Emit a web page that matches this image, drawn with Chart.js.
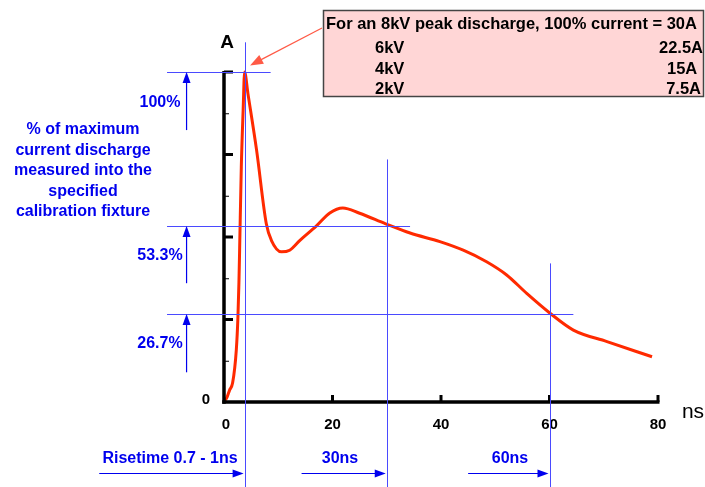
<!DOCTYPE html>
<html>
<head>
<meta charset="utf-8">
<script src="https://cdn.jsdelivr.net/npm/chart.js@4.4.1/dist/chart.umd.min.js"></script>
<style>
  html, body { margin: 0; padding: 0; background: #ffffff; }
  #wrap { width: 705px; height: 487px; position: relative; }
</style>
</head>
<body>
<div id="wrap"><canvas id="c" width="705" height="487"></canvas></div>
<script>
// ---- Data (time in ns, current in % of maximum) ----
const timeNs = [0, 0.57, 1.03, 1.59, 2.27, 2.57, 2.75, 2.88, 3.19, 3.53, 3.8, 4.4, 6.0, 7.8, 8.73, 10.6, 12.1, 14, 17, 19.5, 21.9, 25, 29.8, 34.3, 39.8, 44.1, 48.4, 52.1, 55.8, 60.1, 64.4, 70.6, 78.9];
const currentPct = [0, 1.5, 3.6, 5.8, 15.8, 25.8, 36.1, 46.1, 71.2, 88.5, 100, 93.6, 76.4, 54, 49, 45.5, 46, 49, 53.3, 57.3, 58.8, 57.2, 54, 51.2, 48.6, 46, 42.5, 38.5, 32.9, 26.9, 21.8, 18.3, 13.7];

const xTickValues = [0, 20, 40, 60, 80];
const xTickLabels = ['0', '20', '40', '60', '80'];
const yMajorTicks = [0, 25, 50, 75, 100];
const yMinorTicks = [12.5, 37.5, 62.5, 87.5];

const levelPct = [100, 53.3, 26.7];
const levelLabels = ['100%', '53.3%', '26.7%'];
const levelLineEndNs = [8.6, 34.3, 64.4];
const timeMarksNs = [3.8, 30, 60];
const timeMarkTopPct = [109, 73.5, 42];
const timeLabels = ['Risetime 0.7 - 1ns', '30ns', '60ns'];
const timeArrowTailNs = [-23, 14.3, 45];

const noteLines = ['% of maximum', 'current discharge', 'measured into the', 'specified', 'calibration fixture'];
const boxRowsLeft = ['6kV', '4kV', '2kV'];
const boxRowsRight = ['22.5A', '15A', '7.5A'];
const boxTitle = 'For an 8kV peak discharge, 100% current = 30A';

const FONT = '"Liberation Sans", Arial, Helvetica, sans-serif';
const BLUE = '#0000ee';
const LINEBLUE = '#4a4aff';

function arrow(ctx, x1, y1, x2, y2, color, headLen, headW) {
  const ang = Math.atan2(y2 - y1, x2 - x1);
  ctx.save();
  ctx.strokeStyle = color; ctx.fillStyle = color;
  ctx.lineWidth = 1.2;
  ctx.beginPath();
  ctx.moveTo(x1, y1);
  ctx.lineTo(x2 - Math.cos(ang) * headLen * 0.8, y2 - Math.sin(ang) * headLen * 0.8);
  ctx.stroke();
  ctx.translate(x2, y2); ctx.rotate(ang);
  ctx.beginPath();
  ctx.moveTo(0, 0);
  ctx.lineTo(-headLen, -headW / 2);
  ctx.lineTo(-headLen, headW / 2);
  ctx.closePath(); ctx.fill();
  ctx.restore();
}

const decorPlugin = {
  id: 'decor',
  afterDatasetsDraw(chart) {
    const ctx = chart.ctx;
    const xs = chart.scales.x, ys = chart.scales.y;
    const X = v => xs.getPixelForValue(v);
    const Y = v => ys.getPixelForValue(v);
    ctx.save();

    // Axes
    ctx.strokeStyle = '#000'; ctx.lineCap = 'butt';
    ctx.lineWidth = 3.5;
    ctx.beginPath(); ctx.moveTo(X(0), Y(100) - 1); ctx.lineTo(X(0), Y(0) + 1.75); ctx.stroke();
    ctx.beginPath(); ctx.moveTo(X(0) - 1.75, Y(0)); ctx.lineTo(X(80) + 1.5, Y(0)); ctx.stroke();
    // y major ticks
    ctx.lineWidth = 3;
    yMajorTicks.forEach(v => {
      if (v === 0) return;
      ctx.beginPath(); ctx.moveTo(X(0), Y(v)); ctx.lineTo(X(0) + 9, Y(v)); ctx.stroke();
    });
    ctx.lineWidth = 1;
    yMinorTicks.forEach(v => {
      ctx.beginPath(); ctx.moveTo(X(0), Y(v) + 0.5); ctx.lineTo(X(0) + 5, Y(v) + 0.5); ctx.stroke();
    });
    // x ticks
    ctx.lineWidth = 3;
    xTickValues.forEach(v => {
      if (v === 0) return;
      ctx.beginPath(); ctx.moveTo(X(v), Y(0)); ctx.lineTo(X(v), Y(0) - 7); ctx.stroke();
    });
    // tick labels
    ctx.fillStyle = '#000';
    ctx.font = 'bold 15px ' + FONT;
    ctx.textAlign = 'center'; ctx.textBaseline = 'middle';
    xTickValues.forEach((v, i) => ctx.fillText(xTickLabels[i], X(v) + (v === 0 ? 2 : 0), Y(0) + 23));
    ctx.fillText('0', X(0) - 18, Y(0) - 2);
    ctx.font = 'bold 19px ' + FONT;
    ctx.fillText('A', X(0) + 3, 43);
    ctx.font = '21px ' + FONT;
    ctx.fillText('ns', X(80) + 35, 412);

    // Blue reference lines
    ctx.strokeStyle = LINEBLUE; ctx.lineWidth = 1;
    levelPct.forEach((p, i) => {
      const y = Math.round(Y(p)) + 0.5;
      ctx.beginPath(); ctx.moveTo(X(-10.5), y); ctx.lineTo(X(levelLineEndNs[i]), y); ctx.stroke();
    });
    timeMarksNs.forEach((t, i) => {
      const x = Math.round(X(t)) + 0.5;
      ctx.beginPath(); ctx.moveTo(x, Y(timeMarkTopPct[i])); ctx.lineTo(x, 487); ctx.stroke();
    });

    // Vertical level arrows and labels
    const arrowTails = [82.4, 36, 9];
    levelPct.forEach((p, i) => {
      arrow(ctx, X(-6.9), Y(arrowTails[i]), X(-6.9), Y(p), BLUE, 11, 8);
    });
    ctx.fillStyle = BLUE;
    ctx.font = 'bold 16px ' + FONT;
    ctx.textAlign = 'center';
    const levelLabelY = [103, 256, 344];
    levelLabels.forEach((t, i) => ctx.fillText(t, 160, levelLabelY[i]));
    noteLines.forEach((t, i) => ctx.fillText(t, 83, 130 + i * 20.5));

    // Bottom time arrows and labels
    const timeLabelX = [170, 340, 510];
    timeMarksNs.forEach((t, i) => {
      arrow(ctx, X(timeArrowTailNs[i]), 473.5, X(t) - 1, 473.5, BLUE, 11, 8);
      ctx.fillText(timeLabels[i], timeLabelX[i], 459);
    });

    // Callout box
    ctx.fillStyle = '#ffd6d6';
    ctx.fillRect(323, 10, 381, 87);
    ctx.strokeStyle = '#444'; ctx.lineWidth = 1.5;
    ctx.strokeRect(323.5, 10.5, 380, 86);
    ctx.fillStyle = '#000';
    ctx.font = 'bold 16.5px ' + FONT;
    ctx.textAlign = 'left';
    ctx.fillText(boxTitle, 326, 24);
    const rowY = [48, 69, 89];
    boxRowsLeft.forEach((t, i) => ctx.fillText(t, 375, rowY[i]));
    ctx.textAlign = 'right';
    ctx.fillText(boxRowsRight[0], 703, rowY[0]);
    ctx.textAlign = 'left';
    ctx.fillText(boxRowsRight[1], 667, rowY[1]);
    ctx.textAlign = 'right';
    ctx.fillText(boxRowsRight[2], 701, rowY[2]);

    // Red callout arrow
    arrow(ctx, 322, 28, X(4.8), Y(102), '#ff5a46', 13, 10);
    ctx.restore();
  }
};

new Chart(document.getElementById('c'), {
  type: 'line',
  data: {
    labels: timeNs,
    datasets: [{
      data: timeNs.map((t, i) => ({ x: t, y: currentPct[i] })),
      borderColor: '#ff2a00',
      borderWidth: 3,
      pointRadius: 0,
      fill: false,
      cubicInterpolationMode: 'monotone',
      clip: false
    }]
  },
  options: {
    responsive: false,
    animation: false,
    devicePixelRatio: 1,
    layout: { padding: { left: 224, right: 47, top: 72, bottom: 85 } },
    plugins: { legend: { display: false }, title: { display: false }, tooltip: { enabled: false } },
    scales: {
      x: { type: 'linear', min: 0, max: 80, display: false },
      y: { type: 'linear', min: 0, max: 100, display: false }
    }
  },
  plugins: [decorPlugin]
});
</script>
</body>
</html>
